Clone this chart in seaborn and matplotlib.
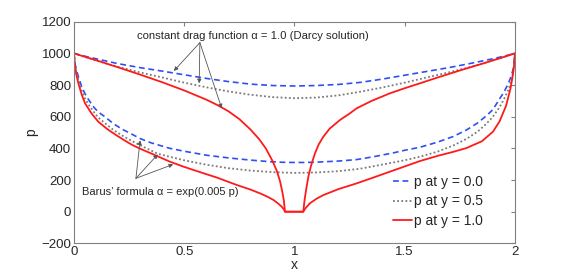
import numpy as np
import pandas as pd
import matplotlib
matplotlib.use("Agg")
import matplotlib.pyplot as plt
import seaborn as sns

# constant drag (Darcy) solutions, alpha = 1.0
darcy_x = [0, 0.05, 0.1, 0.2, 0.3, 0.4, 0.5, 0.6, 0.7, 0.8, 0.9, 1.0,
           1.1, 1.2, 1.3, 1.4, 1.5, 1.6, 1.7, 1.8, 1.9, 1.95, 2.0]
darcy_y00 = [1000, 982, 966, 935, 910, 888, 865, 842, 822, 806, 797, 794,
             797, 804, 817, 838, 862, 886, 910, 937, 966, 982, 1000]
darcy_y05 = [1000, 977, 955, 915, 880, 848, 815, 786, 760, 739, 724, 717,
             721, 735, 758, 785, 815, 848, 880, 915, 955, 977, 1000]

darcy_x10 = [0, 0.1, 0.2, 0.3, 0.4, 0.5, 0.6, 0.65, 0.7, 0.75, 0.8, 0.84, 0.87,
             0.9, 0.92, 0.935, 0.945, 0.952, 0.957, 1.0, 1.04, 1.046, 1.053,
             1.063, 1.075, 1.093, 1.11, 1.131, 1.16, 1.206, 1.25, 1.282, 1.35,
             1.433, 1.5, 1.569, 1.65, 1.75, 1.85, 1.93, 2.0]
darcy_y10 = [1000, 957, 912, 866, 818, 766, 708, 674, 635, 585, 520, 458, 400,
             322, 258, 190, 125, 70, 0, 0, 0, 75, 140,
             221, 290, 369, 425, 474, 525, 579, 620, 653, 700,
             748, 780, 811, 848, 892, 934, 969, 1000]

# Barus' formula solutions, alpha = exp(0.005 p)
barus_x00 = [0, 0.005, 0.01, 0.02, 0.035, 0.05, 0.067, 0.09, 0.11, 0.14, 0.18,
             0.22, 0.265, 0.3, 0.35, 0.435, 0.5, 0.6, 0.7, 0.8, 0.889, 0.95,
             1.0, 1.05, 1.1, 1.2, 1.28, 1.35, 1.45, 1.5, 1.569, 1.65, 1.72,
             1.78, 1.83, 1.87, 1.9, 1.93, 1.95, 1.97, 1.98, 1.99, 1.995, 2.0]
barus_y00 = [1000, 935, 900, 853, 790, 745, 706, 660, 630, 600, 555,
             520, 488, 462, 435, 400, 382, 357, 340, 326, 316, 312,
             311, 311, 313, 320, 329, 345, 372, 388, 407, 440, 475,
             516, 560, 605, 645, 712, 755, 810, 845, 890, 925, 1000]

barus_x05 = [0, 0.005, 0.01, 0.02, 0.035, 0.05, 0.067, 0.09, 0.11, 0.14, 0.18,
             0.22, 0.265, 0.3, 0.38, 0.435, 0.5, 0.6, 0.7, 0.8, 0.9, 1.0,
             1.1, 1.2, 1.3, 1.4, 1.5, 1.569, 1.65, 1.72, 1.78, 1.83, 1.87,
             1.9, 1.93, 1.95, 1.97, 1.98, 1.99, 1.995, 2.0]
barus_y05 = [1000, 925, 885, 830, 765, 715, 675, 630, 595, 560, 515,
             480, 445, 420, 366, 347, 325, 297, 275, 260, 250, 245,
             248, 256, 272, 298, 325, 347, 380, 418, 460, 505, 555,
             600, 660, 710, 770, 815, 868, 912, 1000]

barus_x10 = [0, 0.005, 0.01, 0.02, 0.035, 0.05, 0.08, 0.11, 0.15, 0.19, 0.23,
             0.265, 0.3, 0.35, 0.435, 0.5, 0.587, 0.65, 0.738, 0.8, 0.844, 0.88,
             0.905, 0.925, 0.942, 0.952, 0.957, 1.0, 1.04, 1.05, 1.07, 1.1,
             1.131, 1.2, 1.282, 1.35, 1.433, 1.5, 1.569, 1.65, 1.72, 1.78, 1.85,
             1.9, 1.93, 1.96, 1.98, 1.99, 1.995, 2.0]
barus_y10 = [1000, 920, 870, 811, 740, 685, 620, 569, 523, 485, 450,
             421, 398, 368, 316, 283, 243, 215, 169, 140, 116, 93,
             74, 53, 32, 15, 0, 0, 0, 22, 53, 82,
             105, 143, 179, 212, 253, 286, 320, 353, 378, 402, 445,
             505, 570, 670, 780, 860, 910, 1000]

labels = ["p at y = 0.0", "p at y = 0.5", "p at y = 1.0"]

sns.set_style("white")
plt.rcParams['font.family'] = ['Liberation Sans', 'DejaVu Sans']

fig = plt.figure(figsize=(5.69, 2.75), dpi=100)
ax = fig.add_axes([0.130, 0.115, 0.775, 0.806])

styles = [("#2f4ff5", (0, (3.5, 2.2)), 1.2),
          ("#7a7a7a", (0, (1, 1.3)), 1.3),
          ("#ff1a1a", "-", 1.3)]
curves = [((darcy_x, darcy_y00), (barus_x00, barus_y00)),
          ((darcy_x, darcy_y05), (barus_x05, barus_y05)),
          ((darcy_x10, darcy_y10), (barus_x10, barus_y10))]

for ((dx, dy), (bx, by)), lab, (col, ls, lw) in zip(curves, labels, styles):
    sns.lineplot(x=dx, y=dy, ax=ax, color=col, linestyle=ls, linewidth=lw,
                 estimator=None, sort=False, label=lab)
    sns.lineplot(x=bx, y=by, ax=ax, color=col, linestyle=ls, linewidth=lw,
                 estimator=None, sort=False)

ax.set_xlim(0, 2)
ax.set_ylim(-200, 1200)
ax.set_xticks([0, 0.5, 1, 1.5, 2])
ax.set_xticklabels(["0", "0.5", "1", "1.5", "2"])
ax.set_yticks(range(-200, 1201, 200))
ax.set_yticklabels(["\u2212200", "0", "200", "400", "600", "800", "1000", "1200"])
ax.tick_params(direction="in", length=3, color="#808080", labelsize=9.5,
               top=True, right=True, pad=2)
for s in ax.spines.values():
    s.set_color("#808080")
    s.set_linewidth(0.8)
ax.set_xlabel("x", fontsize=10, labelpad=0)
ax.set_ylabel("p", fontsize=10, labelpad=2)

# annotations
arr = dict(arrowstyle="-|>", color="#555555", lw=0.6, mutation_scale=6,
           shrinkA=0, shrinkB=0)
ax.text(0.81, 1110, "constant drag function \u03b1 = 1.0 (Darcy solution)",
        fontsize=8.1, ha="center", va="center")
for tx, ty in [(0.453, 889), (0.568, 811), (0.67, 653)]:
    ax.annotate("", xy=(tx, ty), xytext=(0.571, 1068), arrowprops=arr)
ax.text(0.035, 126, "Barus\u2019 formula \u03b1 = exp(0.005 p)",
        fontsize=8.0, ha="left", va="center")
for tx, ty in [(0.30, 451), (0.38, 362), (0.45, 299)]:
    ax.annotate("", xy=(tx, ty), xytext=(0.281, 211), arrowprops=arr)

leg = ax.legend(loc="upper left", bbox_to_anchor=(0.723, 0.31), frameon=False,
                fontsize=10, handlelength=1.4, handletextpad=0.1,
                labelspacing=0.42, borderaxespad=0, borderpad=0)

fig.savefig("out.png", dpi=100)
